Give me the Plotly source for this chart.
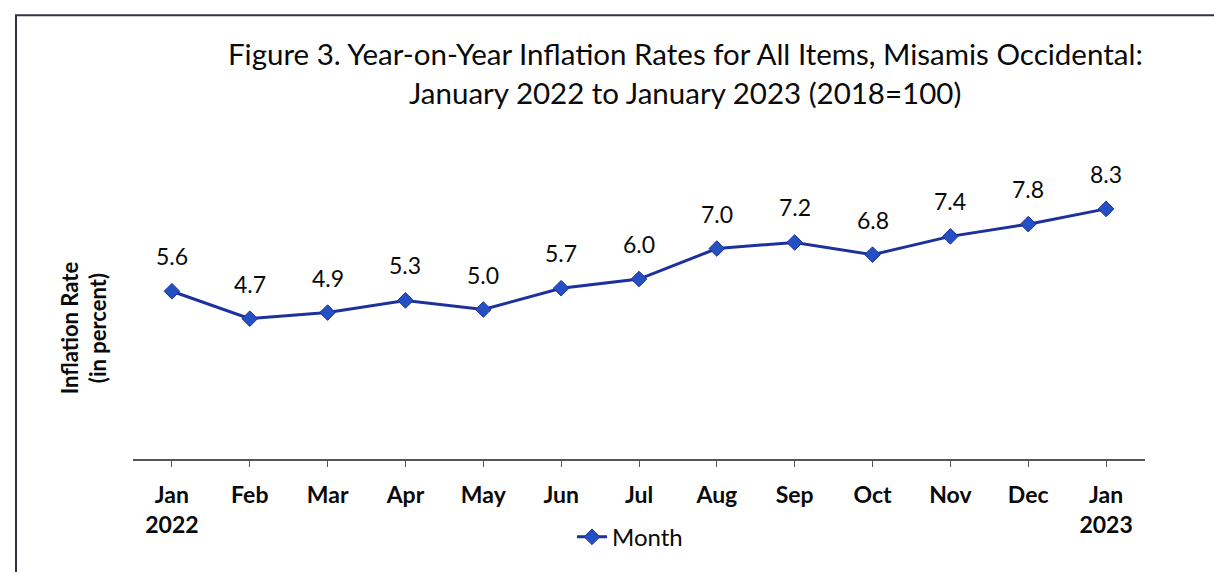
import plotly.graph_objects as go

months = ["Jan<br>2022", "Feb", "Mar", "Apr", "May", "Jun", "Jul", "Aug", "Sep", "Oct", "Nov", "Dec", "Jan<br>2023"]
rates = [5.6, 4.7, 4.9, 5.3, 5.0, 5.7, 6.0, 7.0, 7.2, 6.8, 7.4, 7.8, 8.3]
series_name = "Month"
title_lines = ["Figure 3. Year-on-Year Inflation Rates for All Items, Misamis Occidental:",
               "January 2022 to January 2023 (2018=100)"]
y_title = "Inflation Rate<br>(in percent)"

W, H = 1214, 572
L, R, T, B = 133, 69, 154, 110
pw, ph = W - L - R, H - T - B

def px_x(x):
    return (x - L) / pw

def px_y(y):
    return (H - B - y) / ph

FONT = "Lato"
LINE = "#1c319c"
MARK = "#2450c4"
TXT = "#0a0a0a"

fig = go.Figure()
fig.add_trace(go.Scatter(
    x=list(range(len(months))), y=rates, mode="lines+markers", name=series_name,
    line=dict(color=LINE, width=3),
    marker=dict(symbol="diamond", size=12, color=MARK, line=dict(color=LINE, width=1)),
))

for i, v in enumerate(rates):
    fig.add_annotation(x=i, y=v, text=f"{v:.1f}", showarrow=False, yshift=35,
                       font=dict(family=FONT, size=23, color=TXT))

fig.add_annotation(xref="paper", yref="paper", x=px_x(84), y=px_y(330), text=y_title,
                   textangle=-90, showarrow=False, xanchor="center", yanchor="middle",
                   font=dict(family=FONT, size=22, color=TXT, weight="bold"))

for k, line in enumerate(title_lines):
    fig.add_annotation(xref="paper", yref="paper", x=px_x(685), y=px_y(53 + 39 * k),
                       text=line, showarrow=False, xanchor="center", yanchor="middle",
                       font=dict(family=FONT, size=29.5, color=TXT))

fig.add_shape(type="rect", xref="paper", yref="paper",
              x0=px_x(16), y0=px_y(600), x1=px_x(1240), y1=px_y(14),
              line=dict(color="#333344", width=2))

fig.update_layout(
    width=W, height=H,
    margin=dict(l=L, r=R, t=T, b=B),
    paper_bgcolor="white", plot_bgcolor="white",
    xaxis=dict(
        tickmode="array", tickvals=list(range(len(months))), ticktext=months,
        range=[-0.5, len(months) - 0.5], showgrid=False, zeroline=False,
        showline=True, linecolor="#555555", linewidth=1.5,
        ticks="outside", tickson="boundaries", ticklen=6, tickcolor="#555555",
        tickfont=dict(family=FONT, size=23, color=TXT, weight="bold"),
        ticklabelstandoff=9,
    ),
    yaxis=dict(range=[0.1, 10.1], visible=False, showgrid=False, zeroline=False),
    showlegend=True,
    legend=dict(orientation="h", x=px_x(630), xanchor="center", y=px_y(541), yanchor="middle",
                font=dict(family=FONT, size=24, color=TXT), bgcolor="rgba(0,0,0,0)"),
)

fig.write_html("out.html")
